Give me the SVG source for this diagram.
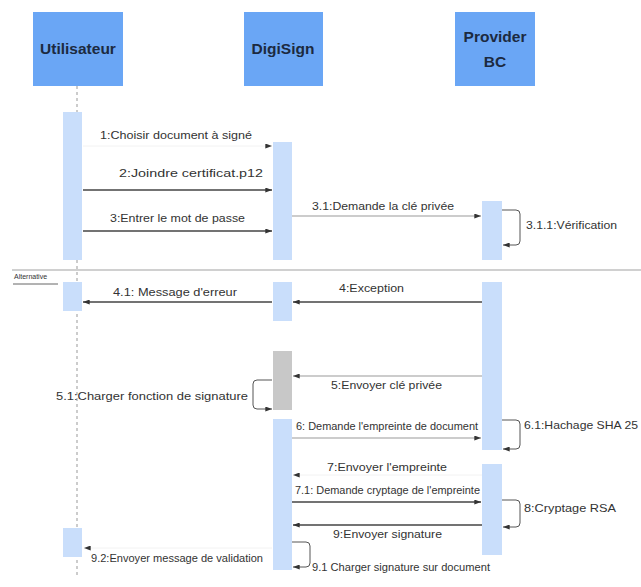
<svg xmlns="http://www.w3.org/2000/svg" width="641" height="587" viewBox="0 0 641 587">
<style>
.hdr{fill:#6aa6f5}
.htxt{font-family:"Liberation Sans",Arial,sans-serif;font-weight:bold;font-size:15.5px;fill:#1c2a40;text-anchor:middle}
.act{fill:#c9defb}
.gact{fill:#c8c8c8}
.lbl{font-family:"Liberation Sans",Arial,sans-serif;font-size:11.5px;fill:#333}
.msg{stroke:#444;stroke-width:1.3;fill:none;marker-end:url(#ah)}
.msgl{stroke:#999;stroke-width:1;fill:none;marker-end:url(#ah)}
.faint{stroke:#f2f2f2;stroke-width:1;fill:none;marker-end:url(#ah)}
.self{stroke:#555;stroke-width:1;fill:none;marker-end:url(#ah)}
</style>
<defs>
<marker id="ah" viewBox="0 0 8 6" refX="8" refY="3" markerWidth="7" markerHeight="5" markerUnits="userSpaceOnUse" orient="auto">
<path d="M0,0 L8,3 L0,6 z" fill="#333"/>
</marker>
</defs>
<rect width="641" height="587" fill="#ffffff"/>

<g id="utilisateur">
<rect class="hdr" x="33" y="12" width="90" height="74"/>
<text class="htxt" x="78" y="54">Utilisateur</text>
<line x1="77" y1="86" x2="77" y2="576" stroke="#999" stroke-width="1" stroke-dasharray="3,3"/>
<rect class="act" x="63" y="112" width="19" height="148"/>
<rect class="act" x="63" y="282" width="19" height="29"/>
<rect class="act" x="63" y="528" width="19" height="29"/>
</g>

<g id="digisign">
<rect class="hdr" x="244" y="12" width="79" height="74"/>
<text class="htxt" x="283" y="54">DigiSign</text>
<rect class="act" x="273" y="142" width="19" height="118"/>
<rect class="act" x="273" y="282" width="19" height="39"/>
<rect class="gact" x="273" y="351" width="19" height="59"/>
<rect class="act" x="273" y="419" width="19" height="151"/>
</g>

<g id="provider">
<rect class="hdr" x="455" y="12" width="80" height="74"/>
<text class="htxt" x="495" y="42">Provider</text>
<text class="htxt" x="495" y="67">BC</text>
<rect class="act" x="482" y="201" width="20" height="59"/>
<rect class="act" x="482" y="282" width="20" height="168"/>
<rect class="act" x="482" y="464" width="20" height="91"/>
</g>

<g id="alternative">
<line x1="12" y1="270" x2="641" y2="270" stroke="#d0d0d0" stroke-width="2"/>
<text x="14" y="279" font-family="'Liberation Sans',Arial,sans-serif" font-size="7px" fill="#333">Alternative</text>
<line x1="13" y1="284" x2="58" y2="284" stroke="#666" stroke-width="1"/>
</g>

<g id="connectors">
<line class="faint" x1="83" y1="146" x2="272" y2="146"/>
<line class="msg" x1="83" y1="190" x2="272" y2="190"/>
<line class="msg" x1="83" y1="231" x2="272" y2="231"/>
<line class="msgl" x1="292" y1="216" x2="481" y2="216"/>
<path class="self" d="M502,210 H516 Q520,210 520,214 V241 Q520,245 516,245 H503"/>
<line class="msg" x1="482" y1="302" x2="293" y2="302"/>
<line class="msg" x1="272" y1="302" x2="83" y2="302"/>
<line class="msgl" x1="482" y1="376" x2="293" y2="376"/>
<path class="self" d="M272,380 H257 Q253,380 253,384 V405 Q253,409 257,409 H272"/>
<line class="msgl" x1="292" y1="438" x2="481" y2="438"/>
<path class="self" d="M502,420 H516 Q520,420 520,424 V445 Q520,449 516,449 H503"/>
<line class="faint" x1="482" y1="475" x2="293" y2="475"/>
<line class="msg" x1="292" y1="502" x2="481" y2="502"/>
<path class="self" d="M502,500 H516 Q520,500 520,504 V523 Q520,527 516,527 H503"/>
<line class="msg" x1="482" y1="525" x2="293" y2="525"/>
<path class="self" d="M292,542 H306 Q310,542 310,546 V563 Q310,567 306,567 H293"/>
<line class="faint" x1="272" y1="548" x2="84" y2="548"/>
</g>

<g id="labels">
<text class="lbl" x="100" y="139" textLength="152" lengthAdjust="spacingAndGlyphs">1:Choisir document à signé</text>
<text class="lbl" x="119" y="177" textLength="144" lengthAdjust="spacingAndGlyphs">2:Joindre certificat.p12</text>
<text class="lbl" x="110" y="222" textLength="135" lengthAdjust="spacingAndGlyphs">3:Entrer le mot de passe</text>
<text class="lbl" x="312" y="210" textLength="142" lengthAdjust="spacingAndGlyphs">3.1:Demande la clé privée</text>
<text class="lbl" x="526" y="229" textLength="91" lengthAdjust="spacingAndGlyphs">3.1.1:Vérification</text>
<text class="lbl" x="339" y="292" textLength="65" lengthAdjust="spacingAndGlyphs">4:Exception</text>
<text class="lbl" x="113" y="296" textLength="124" lengthAdjust="spacingAndGlyphs">4.1: Message d'erreur</text>
<text class="lbl" x="331" y="389" textLength="111" lengthAdjust="spacingAndGlyphs">5:Envoyer clé privée</text>
<text class="lbl" x="56" y="400" textLength="192" lengthAdjust="spacingAndGlyphs">5.1:Charger fonction de signature</text>
<text class="lbl" x="296" y="430" textLength="182" lengthAdjust="spacingAndGlyphs">6: Demande l'empreinte de document</text>
<text class="lbl" x="524" y="429" textLength="114" lengthAdjust="spacingAndGlyphs">6.1:Hachage SHA 25</text>
<text class="lbl" x="327" y="471" textLength="120" lengthAdjust="spacingAndGlyphs">7:Envoyer l'empreinte</text>
<text class="lbl" x="295" y="494" textLength="185" lengthAdjust="spacingAndGlyphs">7.1: Demande cryptage de l'empreinte</text>
<text class="lbl" x="524" y="512" textLength="92" lengthAdjust="spacingAndGlyphs">8:Cryptage RSA</text>
<text class="lbl" x="333" y="538" textLength="109" lengthAdjust="spacingAndGlyphs">9:Envoyer signature</text>
<text class="lbl" x="312" y="571" textLength="178" lengthAdjust="spacingAndGlyphs">9.1 Charger signature sur document</text>
<text class="lbl" x="91" y="562" textLength="172" lengthAdjust="spacingAndGlyphs">9.2:Envoyer message de validation</text>
</g>
</svg>
